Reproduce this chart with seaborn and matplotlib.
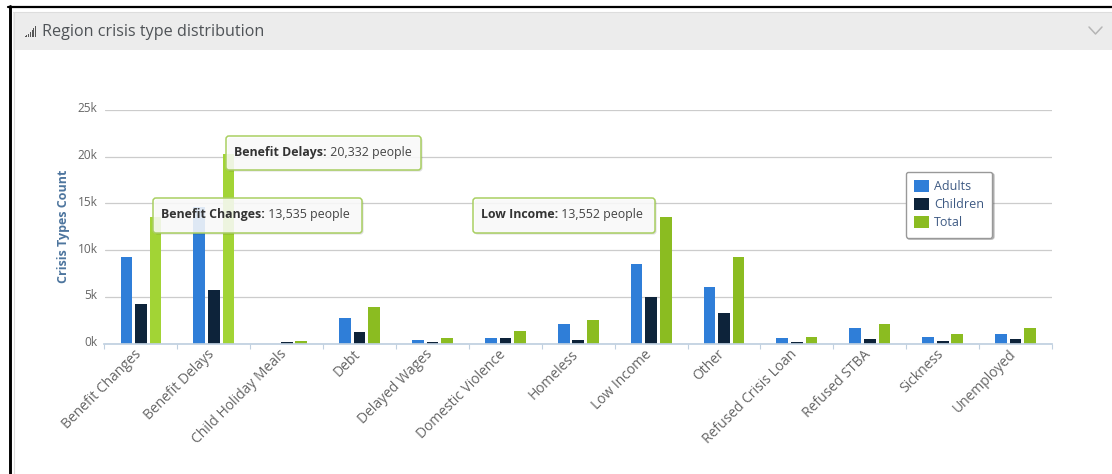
import pandas as pd
import seaborn as sns
import matplotlib.pyplot as plt
from matplotlib.patches import FancyBboxPatch, Rectangle
from matplotlib.lines import Line2D
from matplotlib.transforms import Affine2D, ScaledTranslation

# Data
categories = ['Benefit Changes', 'Benefit Delays', 'Child Holiday Meals', 'Debt', 'Delayed Wages',
              'Domestic Violence', 'Homeless', 'Low Income', 'Other', 'Refused Crisis Loan',
              'Refused STBA', 'Sickness', 'Unemployed']
adults = [9290, 14620, 0, 2710, 390, 570, 2110, 8480, 6060, 630, 1640, 740, 1060]
children = [4250, 5720, 200, 1280, 200, 570, 400, 4940, 3230, 200, 460, 310, 530]
total = [13535, 20332, 320, 3960, 630, 1320, 2540, 13552, 9280, 740, 2070, 1060, 1700]
y_ticks = [0, 5000, 10000, 15000, 20000, 25000]
y_tick_labels = ['0k', '5k', '10k', '15k', '20k', '25k']
tooltips = [('Benefit Delays:', ' 20,332 people', 226, 136, 195, 34),
            ('Benefit Changes:', ' 13,535 people', 153, 198, 209, 35),
            ('Low Income:', ' 13,552 people', 473, 198, 182, 35)]

colors = {'Adults': '#2f7ed8', 'Children': '#0d233a', 'Total': '#8bbc21'}
hover_green = '#a2d435'

df = pd.DataFrame({'Crisis': categories, 'Adults': adults, 'Children': children, 'Total': total})
long_df = df.melt(id_vars='Crisis', var_name='Group', value_name='Count')

sns.set_theme(style='white')
plt.rcParams['font.family'] = ['Open Sans', 'DejaVu Sans']

W, H = 1112, 474
fig = plt.figure(figsize=(W / 100, H / 100), dpi=100, facecolor='white')
pix = Affine2D().scale(1, -1).translate(0, H)

# Panel and screenshot frame
fig.add_artist(Rectangle((13, 12), W - 13, 38, transform=pix, fc='#ececec', ec='none', zorder=-2))
fig.add_artist(Line2D([13.5, 13.5], [12, 474], transform=pix, color='#dddddd', lw=0.8, zorder=-1))
fig.add_artist(Line2D([13, W], [11.5, 11.5], transform=pix, color='#dddddd', lw=0.8, zorder=-1))
fig.add_artist(Line2D([9.5, 9.5], [6, 474], transform=pix, color='black', lw=2.1, zorder=-1))
fig.add_artist(Line2D([8, W], [7, 7], transform=pix, color='black', lw=1.6, zorder=-1))

# Header: signal icon, title, chevron
for i, h in enumerate([1, 2, 3, 5, 7, 9, 11]):
    fig.add_artist(Rectangle((24.5 + i * 1.75, 37 - h), 1.1, h, transform=pix, fc='#555555', ec='none'))
fig.text(42, 32, 'Region crisis type distribution', transform=pix, fontsize=11.6, color='#4f5357',
         va='center', ha='left')
fig.add_artist(Line2D([1089, 1095.5, 1102], [27, 34, 27], transform=pix, color='#b5b5b5', lw=1.1))

ax = fig.add_axes([104.5 / W, (H - 343.5) / H, (1052 - 104.5) / W, (343.5 - 110) / H])
ax.patch.set_alpha(0)
sns.barplot(data=long_df, x='Crisis', y='Count', hue='Group', palette=colors, width=0.6, gap=0.2,
            saturation=1, linewidth=0, ax=ax)

# Hovered bars are drawn in the lighter green
ax.containers[2][0].set_facecolor(hover_green)
ax.containers[2][1].set_facecolor(hover_green)

ax.set_xlim(-0.5, len(categories) - 0.5)
ax.set_ylim(0, 25000)
ax.set_yticks(y_ticks, y_tick_labels)
ax.set_xlabel('')
ax.set_ylabel('Crisis Types Count', fontsize=9, fontweight='bold', color='#4d759e', labelpad=0)
ax.yaxis.set_label_coords(-0.036, 0.5)
ax.grid(axis='y', color='#cccccc', lw=0.9)
ax.set_axisbelow(True)
sns.despine(ax=ax, left=True, top=True, right=True)
ax.spines['bottom'].set_color('#c0d0e0')
ax.tick_params(axis='y', length=0, labelsize=8.6, labelcolor='#666666', pad=5)
ax.set_xticks(range(len(categories)), categories, rotation=45, ha='right', rotation_mode='anchor')
ax.tick_params(axis='x', which='major', length=0, labelsize=10, labelcolor='#666666', pad=2.5, bottom=False)
ax.set_xticks([i - 0.5 for i in range(len(categories) + 1)], minor=True)
ax.tick_params(axis='x', which='minor', length=3.6, width=0.8, color='#c0d0e0', bottom=True)

# Nudge tick labels the way the original chart offsets them
for lab in ax.get_xticklabels():
    lab.set_transform(lab.get_transform() + ScaledTranslation(-7 / 100, 0, fig.dpi_scale_trans))
for lab in ax.get_yticklabels():
    lab.set_transform(lab.get_transform() + ScaledTranslation(0, 2.5 / 100, fig.dpi_scale_trans))

# Legend
leg = ax.legend(loc='upper left', bbox_to_anchor=((905.5 - 104.5) / (1052 - 104.5), (343.5 - 171.5) / (343.5 - 110)),
                title=None, frameon=True, fancybox=True, shadow={'ox': 1.2, 'oy': -1.2, 'alpha': 0.3},
                fontsize=9, handlelength=1.25, handleheight=1.15, handletextpad=0.4, labelspacing=0.38,
                borderpad=0.65, borderaxespad=0)
leg.get_frame().set_edgecolor('#999999')
leg.get_frame().set_alpha(1)
for t in leg.get_texts():
    t.set_color('#3e5a83')

# Tooltips
renderer = fig.canvas.get_renderer()
for bold, rest, x, y, w, h in tooltips:
    fig.add_artist(FancyBboxPatch((x + 1.5, y + 1.5), w, h, boxstyle='round,pad=0,rounding_size=3', transform=pix,
                                  fc='#000000', ec='none', alpha=0.13, zorder=4))
    fig.add_artist(FancyBboxPatch((x, y), w, h, boxstyle='round,pad=0,rounding_size=3', transform=pix,
                                  fc=(1, 1, 1, 0.85), ec='#a9cf62', lw=1.1, zorder=5))
    t1 = fig.text(x + 8, y + 16.5, bold, transform=pix, fontsize=8.9, fontweight='bold', color='#333333',
                  va='center', ha='left', zorder=6)
    x2 = pix.inverted().transform(t1.get_window_extent(renderer))[1, 0]
    fig.text(x2, y + 16.5, rest, transform=pix, fontsize=8.9, color='#444444', va='center', ha='left', zorder=6)

plt.savefig('out.png', dpi=100)
